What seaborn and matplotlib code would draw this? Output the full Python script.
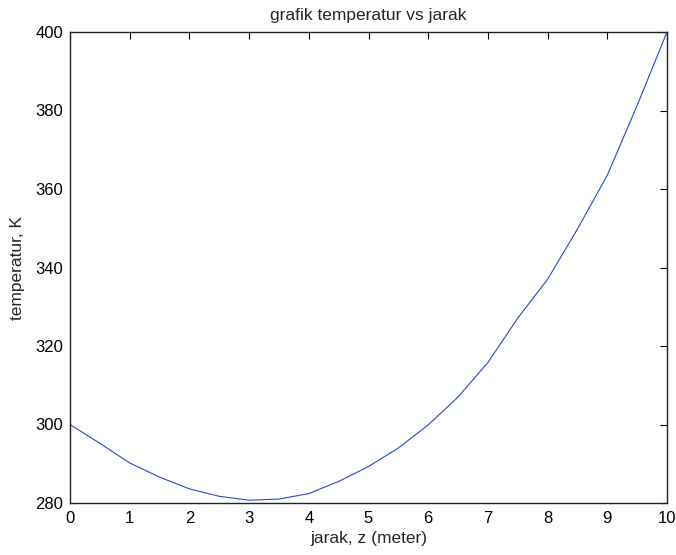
import pandas as pd
import matplotlib.pyplot as plt
import seaborn as sns

sns.set_style("white")
plt.rcParams['font.family'] = ['Liberation Sans', 'DejaVu Sans']

# data
jarak = [0, 0.5, 1, 1.5, 2, 2.5, 3, 3.5, 4, 4.5, 5, 5.5, 6, 6.5, 7, 7.5, 8, 8.5, 9, 9.5, 10]
temperatur = [300.0, 295.2, 290.2, 286.6, 283.6, 281.7, 280.7, 281.0, 282.4, 285.5, 289.3,
              294.0, 299.9, 307.0, 315.8, 327.1, 337.0, 349.8, 363.5, 381.3, 400.0]
xticks = list(range(0, 11))
yticks = [280, 300, 320, 340, 360, 380, 400]

df = pd.DataFrame({"z": jarak, "T": temperatur})

fig = plt.figure(figsize=(6.76, 5.55), dpi=100)
ax = fig.add_axes([70 / 676, 1 - 503 / 555, 597 / 676, 471 / 555])
sns.lineplot(data=df, x="z", y="T", ax=ax, color="#2a48d0", linewidth=0.8)

ax.set_xlim(0, 10)
ax.set_ylim(280, 400)
ax.set_xticks(xticks)
ax.set_yticks(yticks)
ax.tick_params(direction="in", length=5, width=0.8, top=True, right=True,
               labelsize=12, colors="black")
ax.tick_params(axis="x", pad=6)
ax.tick_params(axis="y", pad=5)
for s in ax.spines.values():
    s.set_visible(True)
    s.set_color("#222222")
    s.set_linewidth(1.0)

ax.set_title("grafik temperatur vs jarak", fontsize=12.5, pad=8.5)
ax.set_xlabel("jarak, z (meter)", fontsize=12.5, labelpad=3)
ax.set_ylabel("temperatur, K", fontsize=12.5, labelpad=7)

fig.savefig("out.png", dpi=100, facecolor="white")
